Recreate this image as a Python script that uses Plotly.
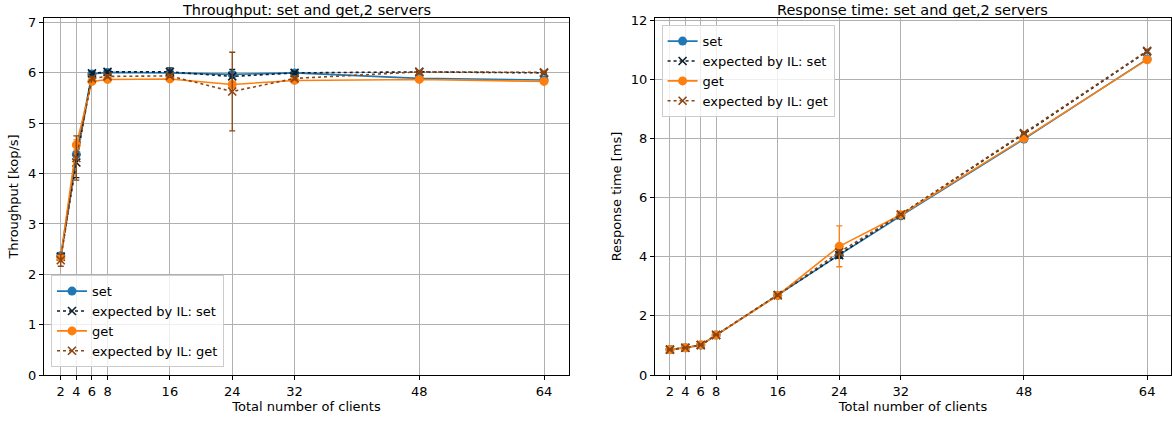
import plotly.graph_objects as go

clients = [2, 4, 6, 8, 16, 24, 32, 48, 64]
x_ticks = [2, 4, 6, 8, 16, 24, 32, 48, 64]

# Throughput [kop/s]
tp_set = [2.37, 4.38, 5.98, 6.01, 6.00, 5.97, 6.00, 5.89, 5.86]
tp_set_err = [0.04, 0.06, 0.03, 0.03, 0.04, 0.06, 0.02, 0.02, 0.02]
tp_exp_set = [2.35, 4.22, 5.99, 6.02, 6.02, 5.93, 6.00, 6.02, 6.00]
tp_exp_set_err = [0.05, 0.30, 0.03, 0.03, 0.08, 0.14, 0.03, 0.02, 0.02]
tp_get = [2.33, 4.57, 5.83, 5.87, 5.88, 5.77, 5.85, 5.87, 5.83]
tp_get_err = [0.05, 0.10, 0.02, 0.02, 0.02, 0.03, 0.02, 0.02, 0.02]
tp_exp_get = [2.28, 4.31, 5.89, 5.93, 5.94, 5.63, 5.89, 6.02, 6.01]
tp_exp_get_err = [0.12, 0.44, 0.03, 0.03, 0.03, 0.78, 0.03, 0.02, 0.02]

# Response time [ms]
rt_set = [0.86, 0.92, 1.01, 1.35, 2.69, 4.06, 5.38, 7.98, 10.68]
rt_set_err = [0.02, 0.02, 0.02, 0.02, 0.03, 0.05, 0.03, 0.03, 0.04]
rt_exp_set = [0.86, 0.92, 1.01, 1.35, 2.70, 4.05, 5.40, 8.15, 10.94]
rt_exp_set_err = [0.02, 0.02, 0.02, 0.02, 0.03, 0.10, 0.03, 0.04, 0.05]
rt_get = [0.86, 0.92, 1.02, 1.35, 2.69, 4.35, 5.42, 8.00, 10.66]
rt_get_err = [0.02, 0.02, 0.02, 0.02, 0.03, 0.69, 0.03, 0.03, 0.04]
rt_exp_get = [0.86, 0.92, 1.02, 1.36, 2.70, 4.15, 5.43, 8.18, 10.96]
rt_exp_get_err = [0.02, 0.02, 0.02, 0.02, 0.03, 0.08, 0.03, 0.04, 0.05]

names = ["set", "expected by IL: set", "get", "expected by IL: get"]
colors = ["#1f77b4", "#0d1f2d", "#ff7f0e", "#8b4513"]
dashes = ["solid", "dot", "solid", "dot"]
symbols = ["circle", "x-thin", "circle", "x-thin"]

FONT = "DejaVu Sans"
FS = 13

fig = go.Figure()


def add_series(ys, errs, xaxis, yaxis, legend):
    for name, y, e, c, d, s in zip(names, ys, errs, colors, dashes, symbols):
        if s == "circle":
            marker = dict(symbol="circle", size=9, color=c)
        else:
            marker = dict(symbol="x-thin", size=8, color=c, line=dict(width=1.6, color=c))
        fig.add_trace(go.Scatter(
            x=clients, y=y, name=name, mode="lines+markers",
            line=dict(color=c, width=1.6, dash=d),
            marker=marker,
            error_y=dict(type="data", array=e, visible=True, color=c, thickness=1.3, width=3),
            xaxis=xaxis, yaxis=yaxis, legend=legend,
        ))


add_series([tp_set, tp_exp_set, tp_get, tp_exp_get],
           [tp_set_err, tp_exp_set_err, tp_get_err, tp_exp_get_err], "x", "y", "legend")
add_series([rt_set, rt_exp_set, rt_get, rt_exp_get],
           [rt_set_err, rt_exp_set_err, rt_get_err, rt_exp_get_err], "x2", "y2", "legend2")

axis_common = dict(
    showline=True, mirror=True, linecolor="black", linewidth=1,
    ticks="outside", ticklen=4, tickcolor="black",
    showgrid=True, gridcolor="#b0b0b0", gridwidth=1, zeroline=False,
    tickfont=dict(family=FONT, size=FS, color="black"),
)

legend_common = dict(
    bgcolor="rgba(255,255,255,0.8)", bordercolor="#cccccc", borderwidth=1,
    font=dict(family=FONT, size=FS, color="black"),
    tracegroupgap=0,
)

fig.update_layout(
    width=1172, height=423,
    margin=dict(l=44, r=1, t=18, b=48),
    paper_bgcolor="white", plot_bgcolor="white",
    font=dict(family=FONT, size=FS, color="black"),
    xaxis=dict(domain=[0, 0.4658], range=[-0.15, 67.2], tickvals=x_ticks,
               title=dict(text="Total number of clients", font=dict(family=FONT, size=FS), standoff=2),
               **axis_common),
    yaxis=dict(range=[0, 7.09], dtick=1, tick0=0,
               title=dict(text="Throughput [kop/s]", font=dict(family=FONT, size=FS), standoff=6),
               **axis_common),
    xaxis2=dict(domain=[0.5421, 1], range=[0.05, 67.1], tickvals=x_ticks, anchor="y2",
                title=dict(text="Total number of clients", font=dict(family=FONT, size=FS), standoff=2),
                **axis_common),
    yaxis2=dict(range=[0, 12.07], dtick=2, tick0=0, anchor="x2",
                title=dict(text="Response time [ms]", font=dict(family=FONT, size=FS), standoff=6),
                **axis_common),
    legend=dict(x=0.0062, y=0.022, xanchor="left", yanchor="bottom", xref="paper", yref="paper",
                **legend_common),
    legend2=dict(x=0.548, y=0.98, xanchor="left", yanchor="top", xref="paper", yref="paper",
                 **legend_common),
    annotations=[
        dict(text="Throughput: set and get,2 servers", x=0.2329, y=1, xref="paper", yref="paper",
             xanchor="center", yanchor="bottom", yshift=-2, showarrow=False,
             font=dict(family=FONT, size=14.5, color="black")),
        dict(text="Response time: set and get,2 servers", x=0.771, y=1, xref="paper", yref="paper",
             xanchor="center", yanchor="bottom", yshift=-2, showarrow=False,
             font=dict(family=FONT, size=14.5, color="black")),
    ],
)

fig.write_html("out.html")
